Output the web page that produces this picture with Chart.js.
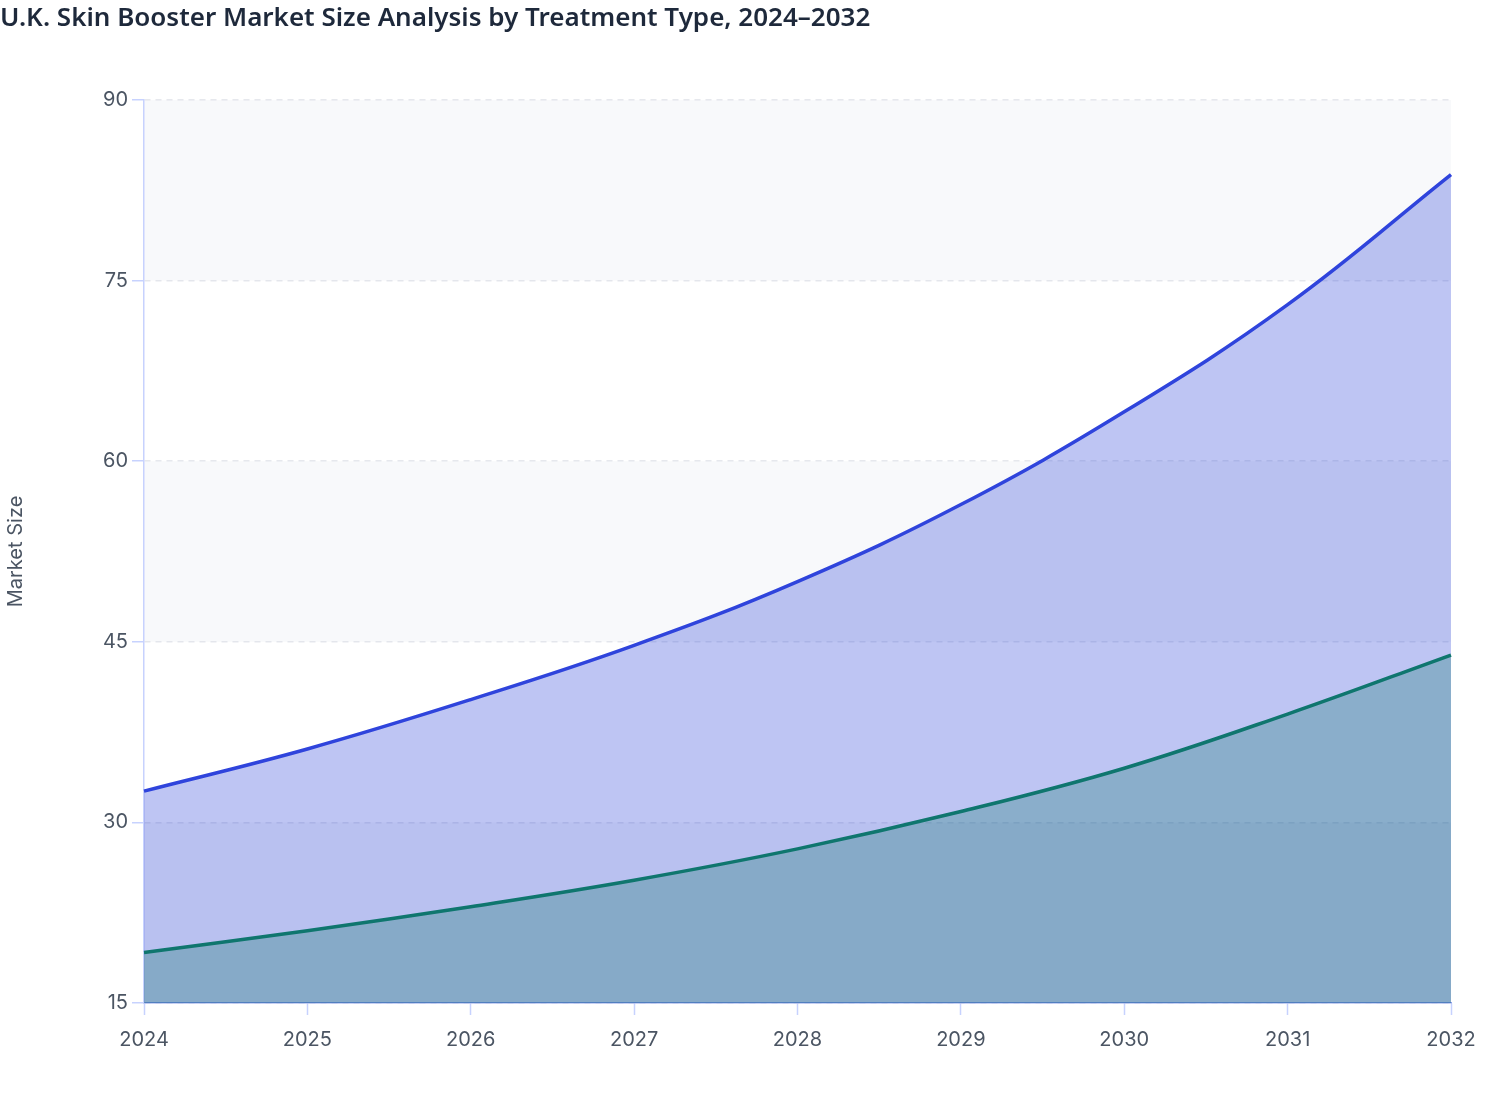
<!DOCTYPE html>
<html>
<head>
<meta charset="utf-8">
<script src="https://cdn.jsdelivr.net/npm/chart.js@4.4.1/dist/chart.umd.min.js"></script>
<style>
  html, body { margin: 0; padding: 0; background: #ffffff; }
  #wrap { width: 1508px; height: 1120px; position: relative; }
</style>
</head>
<body>
<div id="wrap"><canvas id="c" width="1508" height="1120"></canvas></div>
<script>
const years = ['2024', '2025', '2026', '2027', '2028', '2029', '2030', '2031', '2032'];
const upperSeries = [32.6, 36.1, 40.2, 44.7, 50.0, 56.4, 64.1, 73.0, 83.8];
const lowerSeries = [19.2, 21.0, 23.0, 25.2, 27.8, 30.9, 34.5, 39.0, 43.9];
const yMin = 15, yMax = 90, yStep = 15;
const chartTitle = 'U.K. Skin Booster Market Size Analysis by Treatment Type, 2024\u20132032';
const yTitle = 'Market Size';

const bandPlugin = {
  id: 'bands',
  beforeDraw(chart) {
    const { ctx, chartArea } = chart;
    const y = chart.scales.y;
    const ticks = y.ticks.map(t => t.value).sort((a, b) => a - b);
    ctx.save();
    for (let i = 0; i < ticks.length - 1; i++) {
      if (i % 2 !== 0) continue;
      const top = y.getPixelForValue(ticks[i + 1]);
      const bot = y.getPixelForValue(ticks[i]);
      ctx.fillStyle = '#f8f9fb';
      ctx.fillRect(chartArea.left, top, chartArea.right - chartArea.left, bot - top);
    }
    ctx.restore();
  }
};

const tickFont = { family: 'Inter', size: 20 };

new Chart(document.getElementById('c'), {
  type: 'line',
  data: {
    labels: years,
    datasets: [
      {
        label: 'Lower',
        data: lowerSeries,
        borderColor: '#0f766e',
        backgroundColor: 'rgba(15,118,110,0.30)',
        borderWidth: 3.5,
        fill: 'start',
        tension: 0.4,
        pointRadius: 0,
        order: 0
      },
      {
        label: 'Upper',
        data: upperSeries,
        borderColor: '#2f44dc',
        backgroundColor: 'rgba(30,56,213,0.29)',
        borderWidth: 3.5,
        fill: 'start',
        tension: 0.4,
        pointRadius: 0,
        order: 1
      }
    ]
  },
  options: {
    responsive: false,
    animation: false,
    devicePixelRatio: 1,
    layout: { padding: { left: 0, right: 57, top: 0, bottom: 0 } },
    plugins: {
      legend: { display: false },
      tooltip: { enabled: false },
      title: {
        display: true,
        text: chartTitle,
        align: 'start',
        color: '#1e293b',
        font: { family: 'Noto Sans', size: 26, weight: '600', lineHeight: 1.2 },
        padding: { top: 3, bottom: 65.8 }
      }
    },
    scales: {
      x: {
        offset: false,
        grid: { drawOnChartArea: false, drawTicks: true, tickLength: 12, tickColor: '#c7d2fe', tickWidth: 1.5 },
        border: { display: true, color: '#8fa2e8', width: 1.5 },
        ticks: { color: '#4b5563', font: tickFont, padding: 13, maxRotation: 0 },
        afterFit(scale) { scale.height = 117; }
      },
      y: {
        min: yMin,
        max: yMax,
        grid: { color: 'rgba(210,214,222,0.55)', lineWidth: 1.5, tickLength: 12, tickColor: '#c7d2fe', tickBorderDash: [] },
        border: { display: true, color: '#c7d2fe', width: 1.5, dash: [6, 5] },
        ticks: { stepSize: yStep, color: '#4b5563', font: tickFont, padding: 4 },
        title: { display: true, text: yTitle, color: '#4b5563', font: { family: 'Inter', size: 20 }, padding: { top: 4, bottom: 4 } },
        afterFit(scale) { scale.width = 144; }
      }
    }
  },
  plugins: [bandPlugin]
});
</script>
</body>
</html>
